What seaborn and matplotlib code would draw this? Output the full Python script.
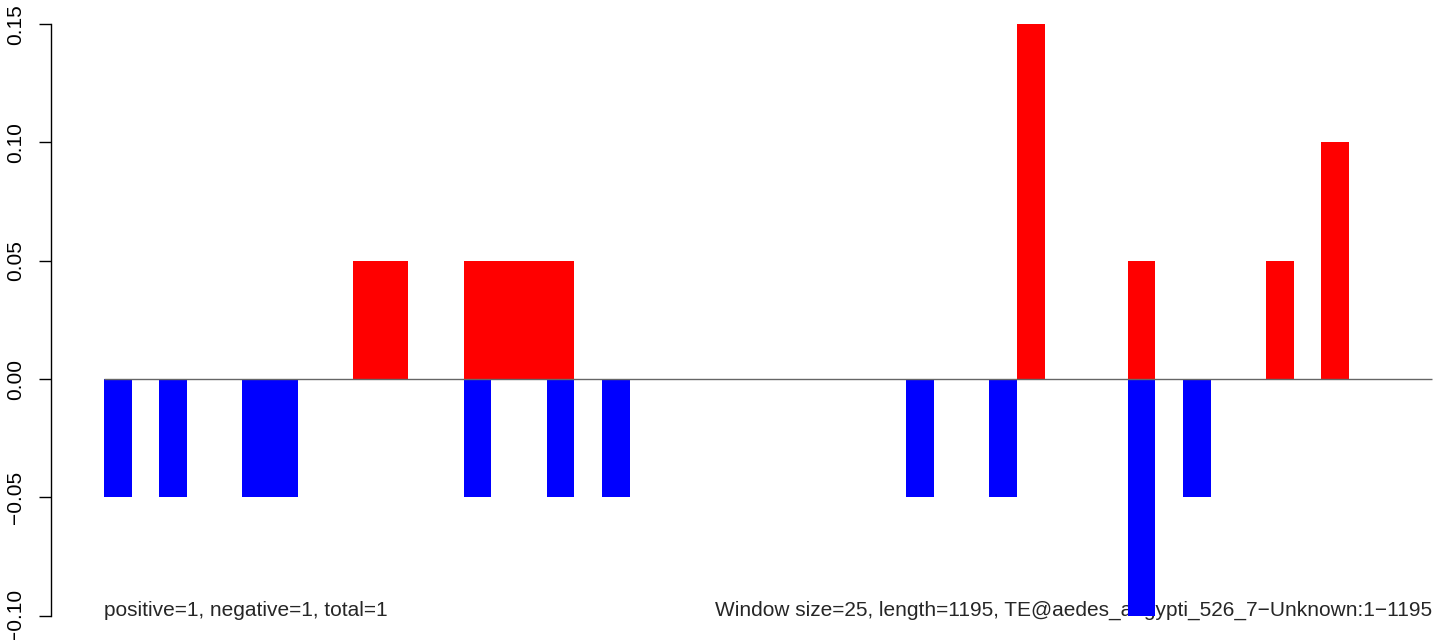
import matplotlib
matplotlib.use("Agg")
import matplotlib.pyplot as plt
import seaborn as sns

# one value per 25-bp window (48 windows over 1195 bp)
windows = list(range(48))
positive = [0, 0, 0, 0, 0, 0, 0, 0, 0, 0.05,
            0.05, 0, 0, 0.05, 0.05, 0.05, 0.05, 0, 0, 0,
            0, 0, 0, 0, 0, 0, 0, 0, 0, 0,
            0, 0, 0, 0.15, 0, 0, 0, 0.05, 0, 0,
            0, 0, 0.05, 0, 0.10, 0, 0, 0]
negative = [-0.05, 0, -0.05, 0, 0, -0.05, -0.05, 0, 0, 0,
            0, 0, 0, -0.05, 0, 0, -0.05, 0, -0.05, 0,
            0, 0, 0, 0, 0, 0, 0, 0, 0, -0.05,
            0, 0, -0.05, 0, 0, 0, 0, -0.10, 0, -0.05,
            0, 0, 0, 0, 0, 0, 0, 0]
yticks = [-0.10, -0.05, 0.00, 0.05, 0.10, 0.15]
ytick_labels = ["\u22120.10", "\u22120.05", "0.00", "0.05", "0.10", "0.15"]
left_note = "positive=1, negative=1, total=1"
right_note = "Window size=25, length=1195, TE@aedes_aegypti_526_7\u2212Unknown:1\u22121195"

sns.set_style("white")
plt.rcParams["font.family"] = ["Liberation Sans", "DejaVu Sans"]
plt.rcParams["font.size"] = 15

fig = plt.figure(figsize=(14.44, 6.4), dpi=100)
ax = fig.add_axes([51 / 1444, 0, 1393 / 1444, 1])

sns.barplot(x=windows, y=positive, color="#ff0000", saturation=1, width=1,
            linewidth=0, ax=ax, zorder=2)
sns.barplot(x=windows, y=negative, color="#0000ff", saturation=1, width=1,
            linewidth=0, ax=ax, zorder=2)

ax.hlines(0, -0.5, 47.5, color="#666666", lw=1, zorder=3)

ax.text(-0.5, -0.10, left_note, ha="left", va="baseline", zorder=1)
ax.text(47.5, -0.10, right_note, ha="right", va="baseline", zorder=1)

ax.set_xlim(-2.415, 47.93)
ax.set_ylim(-0.1103, 0.1602)
ax.set_xticks([])
ax.set_xlabel("")
ax.set_yticks(yticks)
ax.set_yticklabels(ytick_labels, rotation=90, va="center")
ax.tick_params(axis="y", left=True, length=8.5, width=1, pad=10, colors="black")

for side in ["top", "right", "bottom"]:
    ax.spines[side].set_visible(False)
ax.spines["left"].set_bounds(-0.10, 0.15)
ax.spines["left"].set_color("black")
ax.spines["left"].set_linewidth(1)
ax.patch.set_alpha(0)

fig.savefig("out.png", dpi=100)
